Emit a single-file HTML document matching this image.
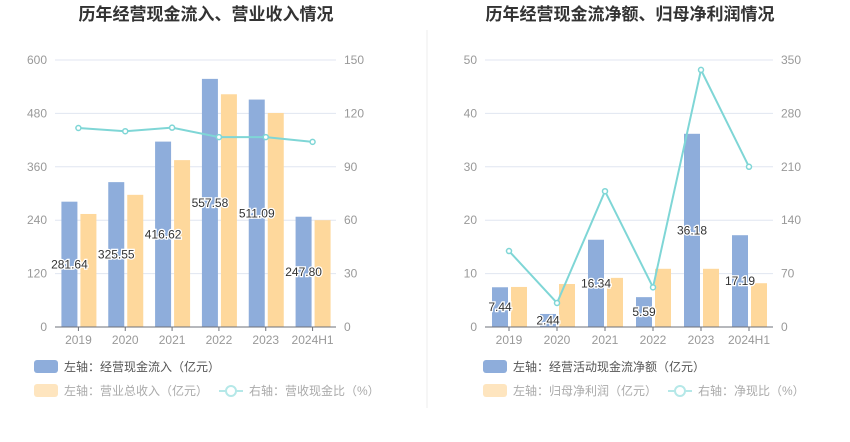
<!DOCTYPE html>
<html><head><meta charset="utf-8">
<style>
body{margin:0;width:850px;height:437px;background:#fff;overflow:hidden;font-family:"Liberation Sans","Noto Sans CJK SC",sans-serif;}
svg text{font-family:"Liberation Sans","Noto Sans CJK SC",sans-serif;}
</style></head>
<body>
<svg id="s" width="850" height="437"></svg>
<script>
const cats=["2019","2020","2021","2022","2023","2024H1"];
const leftBlue=[281.64,325.55,416.62,557.58,511.09,247.80];
const leftYellow=[254,297,375,523,481,240];
const leftRatio=[111.8,110,112,106.7,106.7,104];
const leftTicksL=[0,120,240,360,480,600];
const leftTicksR=[0,30,60,90,120,150];
const rightBlue=[7.44,2.44,16.34,5.59,36.18,17.19];
const rightYellow=[7.5,8.05,9.2,10.9,10.9,8.2];
const rightRatio=[99.6,31.5,178,52,337,210];
const rightTicksL=[0,10,20,30,40,50];
const rightTicksR=[0,70,140,210,280,350];
const NS="http://www.w3.org/2000/svg";
const svg=document.getElementById('s');
function el(t,a,p){const e=document.createElementNS(NS,t);for(const k in a)e.setAttribute(k,a[k]);(p||svg).appendChild(e);return e;}
function txt(x,y,s,a,p){const e=el('text',Object.assign({x:x,y:y},a),p);e.textContent=s;return e;}

function chart(o){
  const g=el('g',{});
  
  
  const x0=o.x0,x1=o.x1,yT=60,yB=327;
  const maxL=o.tl[o.tl.length-1],maxR=o.tr[o.tr.length-1];
  const yL=v=>yB-v/maxL*(yB-yT), yR=v=>yB-v/maxR*(yB-yT);
  const cw=(x1-x0)/cats.length, cx=i=>x0+cw*(i+0.5);
  const t=txt(o.cx,20,o.title,{'text-anchor':'middle','font-size':17,'font-weight':'bold',fill:'#333'},g);
  
  o.tl.forEach((v,i)=>{
    if(i>0)el('line',{x1:x0,x2:x1,y1:yL(v),y2:yL(v),stroke:'#e0e6f1'},g);
    const a=txt(x0-8,yL(v)+4,v,{'text-anchor':'end','font-size':12,fill:'#999'},g);
    
  });
  o.tr.forEach((v,i)=>{
    const a=txt(x1+8,yR(o.tr[i])+4,v,{'font-size':12,fill:'#999'},g);
    
  });
  cats.forEach((c,i)=>{
    const b=el('rect',{x:cx(i)-17,y:yL(o.blue[i]),width:16,height:yB-yL(o.blue[i]),fill:'#8eaddb'},g);
    
    const y=el('rect',{x:cx(i)+2,y:yL(o.yellow[i]),width:16,height:yB-yL(o.yellow[i]),fill:'#fed89c'},g);
    
    const l=txt(cx(i),yB+17,c,{'text-anchor':'middle','font-size':12,fill:'#999'},g);
    
    el('line',{x1:cx(i),x2:cx(i),y1:yB,y2:yB+4,stroke:'#6e7079'},g);
  });
  el('line',{x1:x0,x2:x1,y1:yB,y2:yB,stroke:'#6e7079'},g);
  const pts=o.ratio.map((v,i)=>cx(i)+','+yR(v)).join(' ');
  const pl=el('polyline',{points:pts,fill:'none',stroke:'#7fd6d6','stroke-width':2},g);
  
  o.ratio.forEach((v,i)=>{
    const c=el('circle',{cx:cx(i),cy:yR(v),r:2.5,fill:'#fff',stroke:'#7fd6d6','stroke-width':1.5},g);
    
  });
  o.blue.forEach((v,i)=>{
    const lb=txt(cx(i)-9,(yL(v)+yB)/2+4,v.toFixed(2),{'text-anchor':'middle','font-size':12,fill:'#333',stroke:'#fff','stroke-width':2.5,'paint-order':'stroke'},g);
    
  });
  const lx=o.lx;
  const r1=el('rect',{x:lx,y:360,width:24,height:13,rx:3,fill:'#8eaddb'},g);
  
  const t1=txt(lx+30,371,o.leg1,{'font-size':12,fill:'#555'},g);
  
  const r2=el('rect',{x:lx,y:384,width:24,height:13,rx:3,fill:'#fee5bf'},g);
  
  const t2=txt(lx+30,395,o.leg2,{'font-size':12,fill:'#aaa'},g);
  
  const x3=o.lx3;
  el('line',{x1:x3,x2:x3+24,y1:391,y2:391,stroke:'#b5e8e8','stroke-width':2},g);
  el('circle',{cx:x3+12,cy:391,r:5,fill:'#fff',stroke:'#b5e8e8','stroke-width':2},g);
  const t3=txt(x3+30,395,o.leg3,{'font-size':12,fill:'#aaa'},g);
  
}
chart({name:'left-chart',x0:55,x1:336,cx:206,title:'历年经营现金流入、营业收入情况',tl:leftTicksL,tr:leftTicksR,blue:leftBlue,yellow:leftYellow,ratio:leftRatio,lx:34,lx3:219,leg1:'左轴：经营现金流入（亿元）',leg2:'左轴：营业总收入（亿元）',leg3:'右轴：营收现金比（%）'});
const d=el('line',{x1:427,x2:427,y1:30,y2:408,stroke:'#eee'});

chart({name:'right-chart',x0:485,x1:773,cx:630,title:'历年经营现金流净额、归母净利润情况',tl:rightTicksL,tr:rightTicksR,blue:rightBlue,yellow:rightYellow,ratio:rightRatio,lx:483,lx3:668,leg1:'左轴：经营活动现金流净额（亿元）',leg2:'左轴：归母净利润（亿元）',leg3:'右轴：净现比（%）'});
</script>
</body></html>
